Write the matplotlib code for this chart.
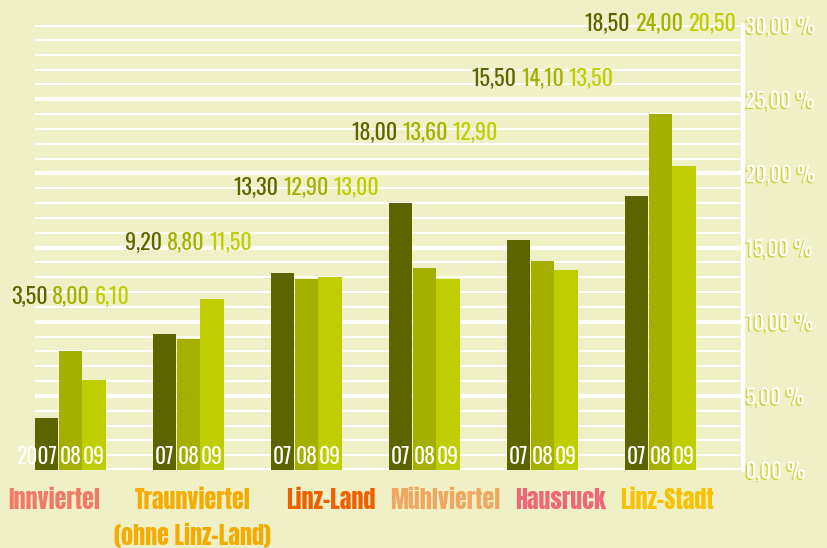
import matplotlib
matplotlib.use("Agg")
import matplotlib.pyplot as plt
import matplotlib.patheffects as pe
from matplotlib.offsetbox import TextArea, HPacker, AnnotationBbox
import numpy as np

categories = ["Innviertel", "Traunviertel\n(ohne Linz-Land)", "Linz-Land", "Mühlviertel", "Hausruck", "Linz-Stadt"]
cat_colors = ["#f07a68", "#f5ac00", "#ee6000", "#f0a860", "#ee6878", "#f8c200"]
v2007 = [3.50, 9.20, 13.30, 18.00, 15.50, 18.50]
v2008 = [8.00, 8.80, 12.90, 13.60, 14.10, 24.00]
v2009 = [6.10, 11.50, 13.00, 12.90, 13.50, 20.50]
year_labels = ["07", "08", "09"]
yticks = [0, 5, 10, 15, 20, 25, 30]
ytick_labels = ["0,00 %", "5,00 %", "10,00 %", "15,00 %", "20,00 %", "25,00 %", "30,00 %"]
label_levels = [11.7, 15.35, 19.05, 22.75, 26.45, 30.1]

bg = "#f0f0c6"
bar_colors = ["#5c6400", "#a4b000", "#bfce00"]

num_font = ["Oswald", "League Gothic", "DejaVu Sans"]
cat_font = ["Anton", "Oswald", "DejaVu Sans"]
plt.rcParams['font.family'] = num_font

fig = plt.figure(figsize=(8.27, 5.48), dpi=100, facecolor=bg)
ax = fig.add_axes([35/827, 1-470/548, (743-35)/827, (470-25)/548])
ax.set_facecolor(bg)
ax.set_xlim(-0.3, 5.7)
ax.set_ylim(0, 30)

# grid
for v in range(0, 31):
    lw = 3 if v % 5 == 0 else 1.5
    ax.axhline(v, color="white", lw=lw, zorder=1, solid_capstyle="butt")

x = np.arange(len(categories))
w = 0.195
series = [v2007, v2008, v2009]
for i, (vals, c) in enumerate(zip(series, bar_colors)):
    ax.bar(x + (i - 1) * 0.2, vals, width=w, color=c, zorder=2)
    for j in range(len(categories)):
        if i == 0 and j == 0:
            ax.text(x[j] + (i - 1) * 0.2 + 0.085, 0.15, "2007", ha="right", va="bottom",
                    color="white", fontsize=15.5, family=num_font, zorder=4)
        else:
            ax.text(x[j] + (i - 1) * 0.2, 0.15, year_labels[i], ha="center", va="bottom",
                    color="white", fontsize=15.5, family=num_font, zorder=4)

# value labels above each group
for j in range(len(categories)):
    strs = [f"{s[j]:.2f}".replace(".", ",") for s in series]
    boxes = [TextArea(s, textprops=dict(color=bar_colors[k], fontsize=16, family=num_font))
             for k, s in enumerate(strs)]
    pack = HPacker(children=boxes, align="center", pad=0, sep=3.5)
    ab = AnnotationBbox(pack, (x[j], label_levels[j]), xycoords="data", frameon=False,
                        box_alignment=(0.5, 0.5), pad=0, annotation_clip=False, zorder=4)
    ax.add_artist(ab)

# right axis line
ax.plot([5.7, 5.7], [0, 30], color="white", lw=3, zorder=3, clip_on=False, solid_capstyle="round")
for s in ax.spines.values():
    s.set_visible(False)
ax.set_xticks([])
ax.yaxis.tick_right()
ax.set_yticks(yticks)
ax.set_yticklabels(ytick_labels)
ax.tick_params(axis="y", length=0, pad=2)
for t in ax.get_yticklabels():
    t.set_color("white")
    t.set_fontsize(15)
    t.set_family(num_font)
    t.set_path_effects([pe.withSimplePatchShadow(offset=(-1, -1), shadow_rgbFace="#ccd23c", alpha=1.0)])

# category labels as a flowing row
cboxes = [TextArea(cat, textprops=dict(color=c, fontsize=17.3, family=cat_font,
                                       linespacing=1.5, multialignment="center"))
          for cat, c in zip(categories, cat_colors)]
row = HPacker(children=cboxes, align="top", pad=0, sep=10.5)
ab = AnnotationBbox(row, (8, 548 - 488), xycoords="figure pixels", frameon=False,
                    box_alignment=(0, 1), pad=0, annotation_clip=False)
fig.add_artist(ab)

fig.savefig("out.png", dpi=100, facecolor=bg)
